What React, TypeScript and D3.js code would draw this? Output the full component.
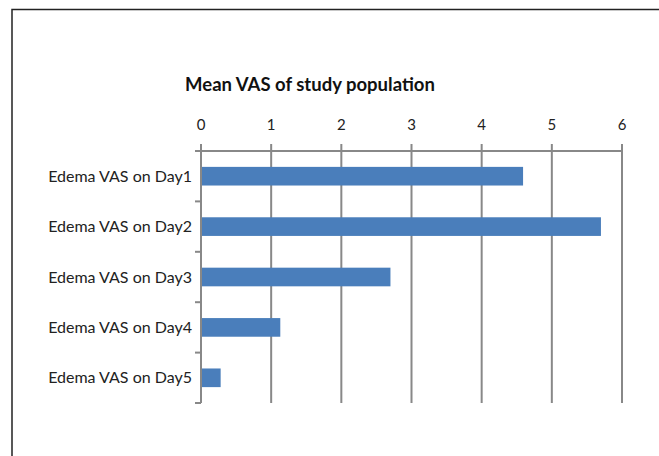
import React, { useEffect, useRef } from "react";
import * as d3 from "d3";

const categories = [
  "Edema VAS on Day1",
  "Edema VAS on Day2",
  "Edema VAS on Day3",
  "Edema VAS on Day4",
  "Edema VAS on Day5",
];
const values = [4.59, 5.7, 2.7, 1.13, 0.28];
const xTicks = [0, 1, 2, 3, 4, 5, 6];
const title = "Mean VAS of study population";

const W = 659;
const H = 456;
const FONT = "Lato, 'Open Sans', sans-serif";

export default function App() {
  const ref = useRef<SVGSVGElement>(null);

  useEffect(() => {
    const svg = d3.select(ref.current);
    svg.selectAll("*").remove();

    const left = 201, right = 622, top = 151, bottom = 403;
    const x = d3.scaleLinear().domain([0, 6]).range([left, right]);
    const y = d3.scaleBand().domain(categories).range([top, bottom]).paddingInner(0.63).paddingOuter(0.315);
    const bandStep = (bottom - top) / categories.length;

    svg.append("rect").attr("width", W).attr("height", H).attr("fill", "#fff");

    // frame
    svg.append("path")
      .attr("d", `M12,${H} L12,9.5 L${W},9.5`)
      .attr("fill", "none")
      .attr("stroke", "#222")
      .attr("stroke-width", 1.5);

    // title
    svg.append("text")
      .attr("x", 310)
      .attr("y", 91)
      .attr("text-anchor", "middle")
      .attr("font-family", FONT)
      .attr("font-weight", "bold")
      .attr("font-size", 18.5)
      .attr("fill", "#111")
      .text(title);

    // gridlines (vertical)
    svg.append("g").selectAll("line").data(xTicks).join("line")
      .attr("x1", (d) => x(d)).attr("x2", (d) => x(d))
      .attr("y1", top - 7).attr("y2", bottom)
      .attr("stroke", "#888").attr("stroke-width", 2);

    // top axis line
    svg.append("line")
      .attr("x1", left - 6).attr("x2", right)
      .attr("y1", top).attr("y2", top)
      .attr("stroke", "#888").attr("stroke-width", 2);

    // y category ticks
    const yTickPos = d3.range(categories.length + 1).map((i) => top + i * bandStep);
    svg.append("g").selectAll("line").data(yTickPos).join("line")
      .attr("x1", left - 6).attr("x2", left)
      .attr("y1", (d) => d).attr("y2", (d) => d)
      .attr("stroke", "#888").attr("stroke-width", 2);

    // x tick labels
    svg.append("g").selectAll("text").data(xTicks).join("text")
      .attr("x", (d) => x(d))
      .attr("y", 130)
      .attr("text-anchor", "middle")
      .attr("font-family", FONT)
      .attr("font-size", 15)
      .attr("fill", "#222")
      .text((d) => String(d));

    // bars
    svg.append("g").selectAll("rect").data(values).join("rect")
      .attr("x", x(0) + 1)
      .attr("y", (_, i) => y(categories[i])!)
      .attr("width", (d) => x(d) - x(0) - 1)
      .attr("height", y.bandwidth())
      .attr("fill", "#4a7ebb");

    // category labels
    svg.append("g").selectAll("text").data(categories).join("text")
      .attr("x", 192)
      .attr("y", (d) => y(d)! + y.bandwidth() / 2)
      .attr("dy", "0.35em")
      .attr("text-anchor", "end")
      .attr("font-family", FONT)
      .attr("font-size", 16)
      .attr("fill", "#222")
      .text((d) => d);

    // left axis line
    svg.append("line")
      .attr("x1", left).attr("x2", left)
      .attr("y1", top).attr("y2", bottom)
      .attr("stroke", "#888").attr("stroke-width", 2);
  }, []);

  return (
    <svg
      ref={ref}
      width={W}
      height={H}
      style={{ position: "absolute", left: 0, top: 0, display: "block" }}
    />
  );
}
